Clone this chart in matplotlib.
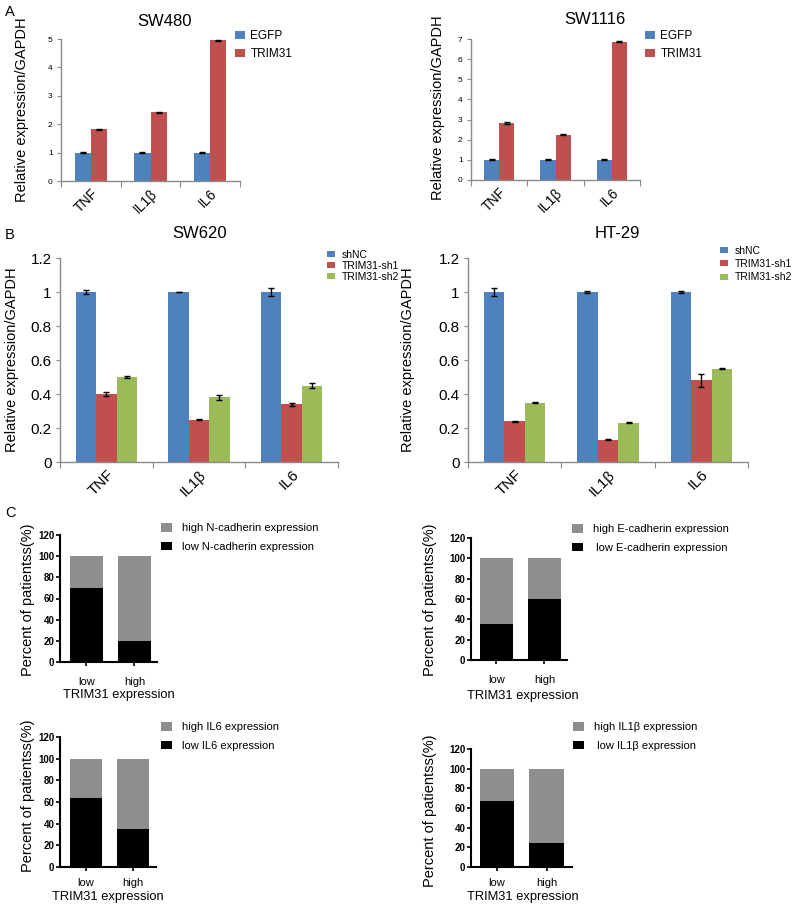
import matplotlib
matplotlib.use("Agg")
import matplotlib.pyplot as plt
import numpy as np

plt.rcParams['font.family'] = ['Liberation Sans', 'DejaVu Sans']

W, H = 800, 911

# ---------------- data ----------------
genes = ["TNF", "IL1β", "IL6"]

sw480_egfp = [1.0, 1.0, 1.0]
sw480_trim = [1.82, 2.42, 4.96]
sw480_egfp_err = [0.01, 0.01, 0.01]
sw480_trim_err = [0.02, 0.02, 0.02]

sw1116_egfp = [1.0, 1.0, 1.0]
sw1116_trim = [2.83, 2.25, 6.87]
sw1116_egfp_err = [0.02, 0.02, 0.02]
sw1116_trim_err = [0.03, 0.03, 0.03]

sw620_shnc = [1.0, 1.0, 1.0]
sw620_sh1 = [0.40, 0.25, 0.34]
sw620_sh2 = [0.50, 0.38, 0.45]
sw620_shnc_err = [0.01, 0.002, 0.025]
sw620_sh1_err = [0.012, 0.003, 0.01]
sw620_sh2_err = [0.005, 0.015, 0.012]

ht29_shnc = [1.0, 1.0, 1.0]
ht29_sh1 = [0.24, 0.13, 0.48]
ht29_sh2 = [0.35, 0.23, 0.55]
ht29_shnc_err = [0.025, 0.003, 0.003]
ht29_sh1_err = [0.003, 0.003, 0.04]
ht29_sh2_err = [0.003, 0.003, 0.003]

trim_groups = ["low", "high"]
ncad_low = [70, 20]
ecad_low = [35, 60]
il6_low = [64, 35]
il1b_low = [67, 24]
total = [100, 100]

BLUE, RED, GREEN = "#4F81BD", "#C0504D", "#9BBB59"
GRAY, BLACK = "#8E8E90", "#000000"
SPINE = "#8A8A8A"

fig = plt.figure(figsize=(W / 100, H / 100), dpi=100)


def add_ax(l, t, r, b):
    return fig.add_axes([l / W, 1 - b / H, (r - l) / W, (b - t) / H])


def ftext(x, y, s, **kw):
    fig.text(x / W, 1 - y / H, s, **kw)


def fig_ylabel(ax, text, cx, cy, size):
    ax.set_ylabel(text, fontsize=size)
    ax.yaxis.set_label_coords(cx / W, 1 - cy / H, transform=fig.transFigure)
    ax.yaxis.label.set_va("center")
    ax.yaxis.label.set_ha("center")


def fig_xlabel(ax, text, cx, cy, size):
    ax.set_xlabel(text, fontsize=size)
    ax.xaxis.set_label_coords(cx / W, 1 - cy / H, transform=fig.transFigure)
    ax.xaxis.label.set_va("center")
    ax.xaxis.label.set_ha("center")


def excel_style(ax, ylim, yticks, ytlabels, ytsize, xtsize):
    ax.set_xlim(0, 3)
    ax.set_ylim(*ylim)
    for s in ["top", "right"]:
        ax.spines[s].set_visible(False)
    for s in ["left", "bottom"]:
        ax.spines[s].set_color(SPINE)
        ax.spines[s].set_linewidth(1.0)
    ax.set_yticks(yticks)
    ax.set_yticklabels(ytlabels, fontsize=ytsize)
    ax.tick_params(axis="y", direction="out", length=3, color=SPINE, pad=3)
    ax.set_xticks([0, 1, 2, 3])
    ax.set_xticklabels([])
    ax.tick_params(axis="x", which="major", direction="out", length=4, color=SPINE)
    ax.set_xticks([0.5, 1.5, 2.5], minor=True)
    ax.set_xticklabels(genes, minor=True, rotation=45, ha="right",
                       rotation_mode="anchor", fontsize=xtsize)
    ax.tick_params(axis="x", which="minor", length=0, pad=4)


def err_kw():
    return dict(ecolor="black", capsize=2, elinewidth=1, capthick=1)


def legA(ax, xy):
    ax.legend(loc="upper left", bbox_to_anchor=(xy[0] / W, 1 - xy[1] / H), bbox_transform=fig.transFigure,
              frameon=False, fontsize=8.5, handlelength=0.85, handleheight=0.7, handletextpad=0.45,
              labelspacing=0.55, borderpad=0, borderaxespad=0)


def legB(ax, xy):
    ax.legend(loc="upper left", bbox_to_anchor=(xy[0] / W, 1 - xy[1] / H), bbox_transform=fig.transFigure,
              frameon=False, fontsize=7.5, handlelength=0.8, handleheight=0.5, handletextpad=0.65,
              labelspacing=0.1, borderpad=0, borderaxespad=0)


x = np.arange(3) + 0.5

# ---------------- Panel A ----------------
wA = 0.27
axA1 = add_ax(61, 39, 240, 181)
axA1.bar(x - wA / 2, sw480_egfp, wA, yerr=sw480_egfp_err, color=BLUE, error_kw=err_kw(), label="EGFP")
axA1.bar(x + wA / 2, sw480_trim, wA, yerr=sw480_trim_err, color=RED, error_kw=err_kw(), label="TRIM31")
excel_style(axA1, (0, 5), range(6), [str(i) for i in range(6)], 6, 10)
legA(axA1, (235, 30))
ftext(165, 22, "SW480", ha="center", va="center", fontsize=12)
fig_ylabel(axA1, "Relative expression/GAPDH", 22, 110, 10.5)

axA2 = add_ax(471, 39, 640, 180)
axA2.bar(x - wA / 2, sw1116_egfp, wA, yerr=sw1116_egfp_err, color=BLUE, error_kw=err_kw(), label="EGFP")
axA2.bar(x + wA / 2, sw1116_trim, wA, yerr=sw1116_trim_err, color=RED, error_kw=err_kw(), label="TRIM31")
excel_style(axA2, (0, 7), range(8), [str(i) for i in range(8)], 6, 10)
legA(axA2, (645, 30))
ftext(595, 20, "SW1116", ha="center", va="center", fontsize=12)
fig_ylabel(axA2, "Relative expression/GAPDH", 438, 108, 10.5)

ftext(5, 12, "A", ha="left", va="center", fontsize=10.5)

# ---------------- Panel B ----------------
wB = 0.22
yt = [0, 0.2, 0.4, 0.6, 0.8, 1.0, 1.2]
ytl = ["0", "0.2", "0.4", "0.6", "0.8", "1", "1.2"]

axB1 = add_ax(60, 258, 338, 462)
axB1.bar(x - wB, sw620_shnc, wB, yerr=sw620_shnc_err, color=BLUE, error_kw=err_kw(), label="shNC")
axB1.bar(x, sw620_sh1, wB, yerr=sw620_sh1_err, color=RED, error_kw=err_kw(), label="TRIM31-sh1")
axB1.bar(x + wB, sw620_sh2, wB, yerr=sw620_sh2_err, color=GREEN, error_kw=err_kw(), label="TRIM31-sh2")
excel_style(axB1, (0, 1.2), yt, ytl, 11, 11)
legB(axB1, (327, 250))
ftext(200, 233, "SW620", ha="center", va="center", fontsize=12)
fig_ylabel(axB1, "Relative expression/GAPDH", 12, 360, 10.5)

axB2 = add_ax(468, 258, 748, 462)
axB2.bar(x - wB, ht29_shnc, wB, yerr=ht29_shnc_err, color=BLUE, error_kw=err_kw(), label="shNC")
axB2.bar(x, ht29_sh1, wB, yerr=ht29_sh1_err, color=RED, error_kw=err_kw(), label="TRIM31-sh1")
axB2.bar(x + wB, ht29_sh2, wB, yerr=ht29_sh2_err, color=GREEN, error_kw=err_kw(), label="TRIM31-sh2")
excel_style(axB2, (0, 1.2), yt, ytl, 11, 11)
axB2.legend(loc="upper left", bbox_to_anchor=(720 / W, 1 - 246 / H), bbox_transform=fig.transFigure,
            frameon=False, fontsize=7.5, handlelength=0.8, handleheight=0.5, handletextpad=0.65,
            labelspacing=0.3, borderpad=0, borderaxespad=0)
ftext(617, 233, "HT-29", ha="center", va="center", fontsize=12)
fig_ylabel(axB2, "Relative expression/GAPDH", 408, 360, 10.5)

ftext(5, 235, "B", ha="left", va="center", fontsize=10.5)

# ---------------- Panel C ----------------
def prism(ax, low, xl, high_label, low_label, leg_xy, tpad, ylab_xy, xlab_xy):
    wC = 0.69
    xc = np.arange(2)
    ax.bar(xc, total, wC, color=GRAY, label=high_label)
    ax.bar(xc, low, wC, color=BLACK, label=low_label)
    ax.set_xlim(*xl)
    ax.set_ylim(0, 120)
    for s in ["top", "right"]:
        ax.spines[s].set_visible(False)
    for s in ["left", "bottom"]:
        ax.spines[s].set_linewidth(1.5)
        ax.spines[s].set_color("black")
    ax.set_yticks(range(0, 121, 20))
    ax.set_yticklabels([str(v) for v in range(0, 121, 20)], fontsize=7, fontweight="bold")
    ax.tick_params(axis="y", direction="out", length=3, width=1.2, pad=1)
    ax.set_xticks(xc)
    ax.set_xticklabels(trim_groups, fontsize=8)
    ax.tick_params(axis="x", direction="out", length=3, width=1.2, pad=tpad)
    fig_xlabel(ax, "TRIM31 expression", xlab_xy[0], xlab_xy[1], 9.3)
    fig_ylabel(ax, "Percent of patientss(%)", ylab_xy[0], ylab_xy[1], 10.5)
    ax.legend(loc="upper left", bbox_to_anchor=(leg_xy[0] / W, 1 - leg_xy[1] / H),
              bbox_transform=fig.transFigure, frameon=False, fontsize=8,
              handlelength=0.95, handleheight=0.85, handletextpad=0.9,
              labelspacing=0.75, borderpad=0, borderaxespad=0)


axC1 = add_ax(60, 535, 157, 662)
prism(axC1, ncad_low, (-0.55, 1.47), "high N-cadherin expression", "low N-cadherin expression",
      (161, 523), 8, (28, 600), (119, 695))
axC2 = add_ax(471, 538, 567, 660)
prism(axC2, ecad_low, (-0.53, 1.47), "high E-cadherin expression", " low E-cadherin expression",
      (572, 524), 8, (430, 600), (523, 696))
axC3 = add_ax(60, 737, 156, 867)
prism(axC3, il6_low, (-0.55, 1.49), "high IL6 expression", "low IL6 expression",
      (161, 722), 5, (28, 796), (108, 897))
axC4 = add_ax(471, 749, 572, 867)
prism(axC4, il1b_low, (-0.525, 1.515), "high IL1β expression", " low IL1β expression",
      (573, 722), 5, (430, 811), (523, 897))

ftext(5, 513, "C", ha="left", va="center", fontsize=10.5)

fig.savefig("out.png", dpi=100)
